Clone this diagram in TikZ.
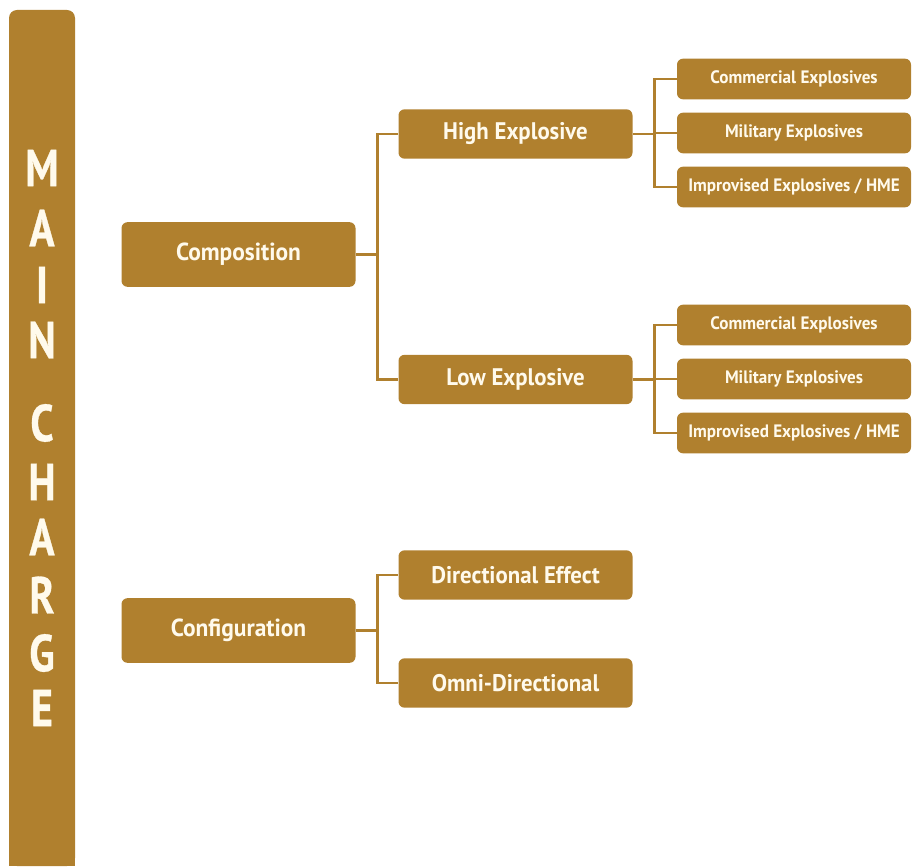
\documentclass[tikz,border=0pt]{standalone}
\usepackage{fontspec}
\setmainfont{PT Sans}[FakeStretch=0.95]
\newfontfamily\barfont{PT Sans}[FakeStretch=0.8,FakeBold=0.6]
\definecolor{gold}{RGB}{176,128,46}
\definecolor{cream}{RGB}{255,250,236}
\begin{document}
\begin{tikzpicture}[x=0.75pt,y=-0.75pt,
  box/.style={fill=gold, rounded corners=4.5pt, text=cream, inner sep=0pt, align=center},
  topbox/.style={box, minimum width=175.5pt, minimum height=48.5pt, font=\bfseries\fontsize{18.5}{20}\selectfont},
  midbox/.style={box, minimum width=175.5pt, minimum height=37pt, font=\bfseries\fontsize{18}{20}\selectfont},
  leafbox/.style={box, minimum width=175.5pt, minimum height=30.5pt, font=\bfseries\fontsize{13.5}{15}\selectfont},
  letter/.style={text=cream, inner sep=0pt, font=\barfont\bfseries\fontsize{39}{40}\selectfont},
  conn/.style={draw=gold, line width=2.2pt}]
\useasboundingbox (0,0) rectangle (912,866);
% main bar: rounded top, square bottom running off the page
\fill[gold, rounded corners=6pt] (9,10) rectangle (75,866);
\fill[gold] (9,40) rectangle (75,866);
\node[letter] (m1) at (42,168) {M};
\node[letter] (m2) at (42,228) {A};
\node[letter] (m3) at (42,285) {I};
\node[letter] (m4) at (42,340) {N};
\node[letter] (m5) at (42,423) {C};
\node[letter] (m6) at (42,482) {H};
\node[letter] (m7) at (42,537) {A};
\node[letter] (m8) at (42,595) {R};
\node[letter] (m9) at (42,653) {G};
\node[letter] (m10) at (42,708) {E};
% level 1
\node[topbox] (comp) at (238.5,254.5) {Composition};
\node[topbox] (config) at (238.5,630.5) {Configuration};
% level 2
\node[midbox] (high) at (515.5,134) {High Explosive};
\node[midbox] (low) at (515.5,379.5) {Low Explosive};
\node[midbox] (dir) at (515.5,575) {Directional Effect};
\node[midbox] (omni) at (515.5,683) {Omni-Directional};
% leaves
\node[leafbox] (hc) at (794,79) {Commercial Explosives};
\node[leafbox] (hm) at (794,133) {Military Explosives};
\node[leafbox] (hi) at (794,187) {Improvised Explosives / HME};
\node[leafbox] (lc) at (794,325) {Commercial Explosives};
\node[leafbox] (lm) at (794,379) {Military Explosives};
\node[leafbox] (li) at (794,433) {Improvised Explosives / HME};
% connectors
\draw[conn] (comp.east) -- ++(22,0) coordinate (j1);
\draw[conn] (j1) |- (high.west);
\draw[conn] (j1) |- (low.west);
\draw[conn] (config.east) -- ++(22,0) coordinate (j2);
\draw[conn] (j2) |- (dir.west);
\draw[conn] (j2) |- (omni.west);
\draw[conn] (high.east) -- ++(22,0) coordinate (j3);
\draw[conn] (j3) |- (hc.west);
\draw[conn] (j3) |- (hm.west);
\draw[conn] (j3) |- (hi.west);
\draw[conn] (low.east) -- ++(22,0) coordinate (j4);
\draw[conn] (j4) |- (lc.west);
\draw[conn] (j4) |- (lm.west);
\draw[conn] (j4) |- (li.west);
\end{tikzpicture}
\end{document}
